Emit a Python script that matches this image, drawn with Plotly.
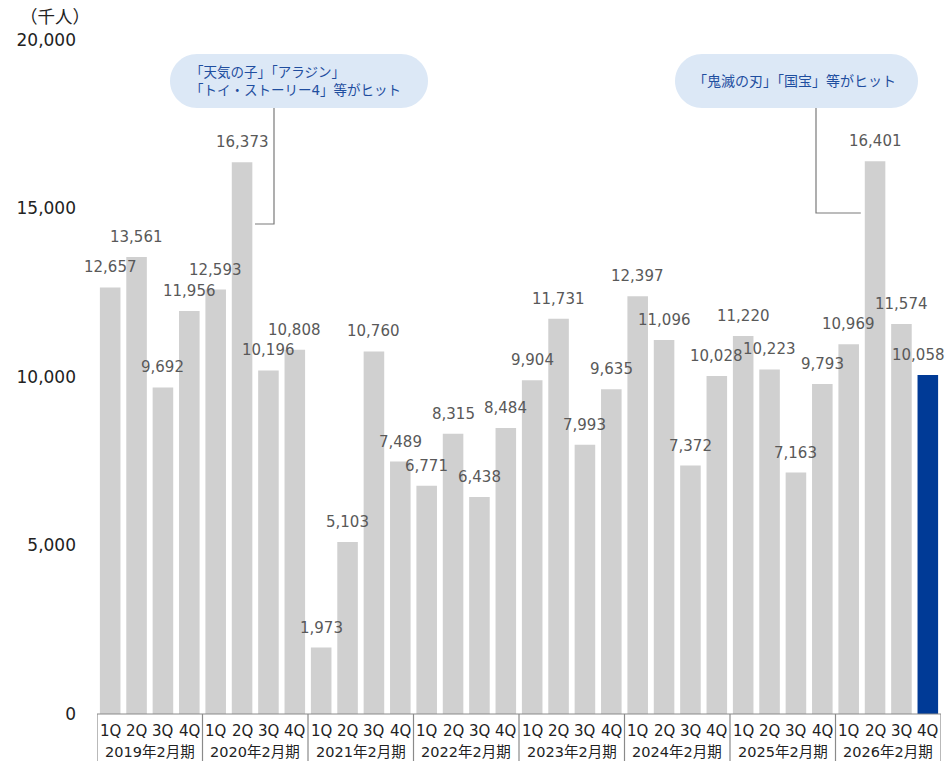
import plotly.graph_objects as go

# Quarterly admissions (thousand people)
fiscal_years = ["2019年2月期", "2020年2月期", "2021年2月期", "2022年2月期",
                "2023年2月期", "2024年2月期", "2025年2月期", "2026年2月期"]
quarters = ["1Q", "2Q", "3Q", "4Q"]
admissions = [
    12657, 13561, 9692, 11956,
    12593, 16373, 10196, 10808,
    1973, 5103, 10760, 7489,
    6771, 8315, 6438, 8484,
    9904, 11731, 7993, 9635,
    12397, 11096, 7372, 10028,
    11220, 10223, 7163, 9793,
    10969, 16401, 11574, 10058,
]
unit_label = "（千人）"
y_ticks = [0, 5000, 10000, 15000, 20000]
callout_texts = ["「天気の子」「アラジン」<br>「トイ・ストーリー4」等がヒット",
                 "「鬼滅の刃」「国宝」等がヒット"]
callout_bars = [5, 29]   # bars the callouts point at

# ---- layout geometry (pixels) ----
W, H = 949, 761
L, R, T, B = 97, 941, 40, 714
n = len(admissions)
y_max = 20000
BAR_W = 0.78

def px2x(px):
    return (px - L) / (R - L) * n - 0.5

def py2y(py):
    return (B - py) / (B - T) * y_max

def px2paper(px):
    return (px - L) / (R - L)

def py2paper(py):
    return (B - py) / (B - T)

GREY = "#d0d0d0"
BLUE = "#003a96"
FONT = "DejaVu Sans, Noto Sans CJK JP, sans-serif"

x_idx = list(range(n))
colors = [GREY] * (n - 1) + [BLUE]

fig = go.Figure()
fig.add_trace(go.Bar(
    x=x_idx, y=admissions, width=BAR_W,
    marker=dict(color=colors, line=dict(width=0)),
    hoverinfo="skip",
))

annotations = []
# value labels above bars (the last one nudged left to stay inside the page)
for i, v in enumerate(admissions):
    annotations.append(dict(
        x=i, y=v, xref="x", yref="y", text=f"{v:,}", showarrow=False,
        yanchor="middle", yshift=20, xshift=-9 if i == n - 1 else 0,
        font=dict(family=FONT, size=15, color="#595959"),
    ))
# quarter labels and fiscal-year labels under the axis
plot_h = B - T
for i in range(n):
    annotations.append(dict(
        x=i, y=0, xref="x", yref="paper", text=quarters[i % 4], showarrow=False,
        yanchor="middle", yshift=-17,
        font=dict(family=FONT, size=15, color="#222222"),
    ))
for k, fy in enumerate(fiscal_years):
    annotations.append(dict(
        x=4 * k + 1.5, y=0, xref="x", yref="paper", text=fy, showarrow=False,
        yanchor="middle", yshift=-38,
        font=dict(family=FONT, size=14.5, color="#222222"),
    ))
# unit label
annotations.append(dict(
    x=px2paper(55), y=py2paper(17), xref="paper", yref="paper", text=unit_label,
    showarrow=False, xanchor="center", yanchor="middle",
    font=dict(family=FONT, size=17.5, color="#222222"),
))

shapes = []
# category table lines
bottom_paper = -(H - B) / plot_h
shapes.append(dict(type="line", xref="x", yref="paper", x0=-0.5, x1=n - 0.5,
                   y0=0, y1=0, line=dict(color="#8a8a8a", width=1.2)))
for k in range(len(fiscal_years) + 1):
    xb = 4 * k - 0.5
    shapes.append(dict(type="line", xref="x", yref="paper", x0=xb, x1=xb,
                       y0=0, y1=bottom_paper, line=dict(color="#8a8a8a", width=1.2)))


def pill_path(x0, y0, x1, y1):
    r = (y1 - y0) / 2
    k = 0.5523 * r
    def P(px, py):
        return f"{px2x(px):.5f},{py2y(py):.3f}"
    return (f"M {P(x0 + r, y0)} L {P(x1 - r, y0)} "
            f"C {P(x1 - r + k, y0)} {P(x1, y0 + r - k)} {P(x1, y0 + r)} "
            f"C {P(x1, y0 + r + k)} {P(x1 - r + k, y1)} {P(x1 - r, y1)} "
            f"L {P(x0 + r, y1)} "
            f"C {P(x0 + r - k, y1)} {P(x0, y0 + r + k)} {P(x0, y0 + r)} "
            f"C {P(x0, y0 + r - k)} {P(x0 + r - k, y0)} {P(x0 + r, y0)} Z")

PILL_FILL = "#dce8f6"
TEXT_BLUE = "#1f4e9f"
LINE_GREY = "#7a7a7a"

# callout 1
shapes.append(dict(type="path", xref="x", yref="y", path=pill_path(170, 54, 428, 108),
                   fillcolor=PILL_FILL, line=dict(width=0), layer="below"))
b1 = callout_bars[0]
shapes.append(dict(type="path", xref="x", yref="y",
                   path=f"M {px2x(274):.5f},{py2y(108):.3f} L {px2x(274):.5f},{py2y(224):.3f} "
                        f"L {b1 + BAR_W / 2 + 0.1:.5f},{py2y(224):.3f}",
                   line=dict(color=LINE_GREY, width=1.2)))
annotations.append(dict(
    x=px2x(188), y=py2y(81), xref="x", yref="y", text=callout_texts[0],
    showarrow=False, xanchor="left", yanchor="middle", align="left",
    font=dict(family=FONT, size=13.5, color=TEXT_BLUE),
))

# callout 2
shapes.append(dict(type="path", xref="x", yref="y", path=pill_path(675, 54, 918, 108),
                   fillcolor=PILL_FILL, line=dict(width=0), layer="below"))
b2 = callout_bars[1]
shapes.append(dict(type="path", xref="x", yref="y",
                   path=f"M {px2x(816):.5f},{py2y(108):.3f} L {px2x(816):.5f},{py2y(213):.3f} "
                        f"L {b2 - BAR_W / 2 - 0.15:.5f},{py2y(213):.3f}",
                   line=dict(color=LINE_GREY, width=1.2)))
annotations.append(dict(
    x=px2x(794), y=py2y(81), xref="x", yref="y", text=callout_texts[1],
    showarrow=False, xanchor="center", yanchor="middle",
    font=dict(family=FONT, size=14, color=TEXT_BLUE),
))

fig.update_layout(
    width=W, height=H,
    margin=dict(l=L, r=W - R, t=T, b=H - B, pad=0),
    paper_bgcolor="white", plot_bgcolor="white",
    showlegend=False,
    xaxis=dict(range=[-0.5, n - 0.5], showticklabels=False, showgrid=False,
               zeroline=False, showline=False, ticks="", fixedrange=True),
    yaxis=dict(range=[0, y_max], tickvals=y_ticks, tickformat=",d",
               showgrid=False, zeroline=False, showline=False, ticks="",
               ticklabelstandoff=20,
               tickfont=dict(family=FONT, size=17, color="#222222"),
               fixedrange=True),
    annotations=annotations,
    shapes=shapes,
    font=dict(family=FONT),
)

fig.write_html("out.html")
